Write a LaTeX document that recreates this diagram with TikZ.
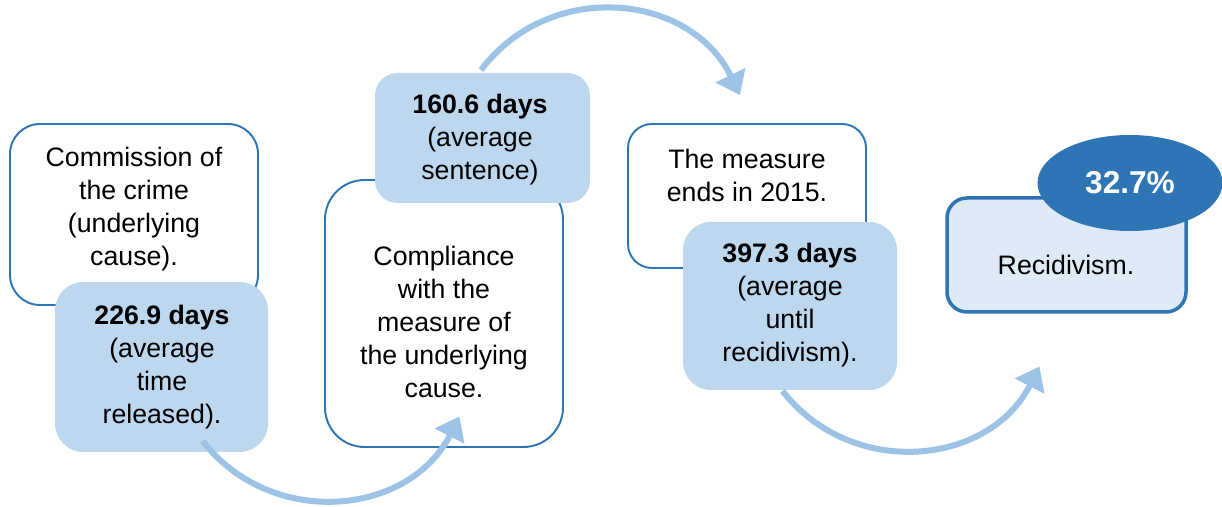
\documentclass[tikz,border=0pt]{standalone}
\usepackage{fontspec}
\setmainfont{Liberation Sans}
\usetikzlibrary{shapes.geometric, arrows.meta}
\definecolor{xblue}{HTML}{2E75B6}
\definecolor{xpale}{HTML}{BDD7EE}
\definecolor{xlight}{HTML}{DEEBF7}
\definecolor{xarrow}{HTML}{9DC3E6}
\tikzset{
	stage/.style={rectangle, rounded corners=#1, draw=xblue, line width=1.1pt, fill=white, inner sep=0pt},
	period/.style={rectangle, rounded corners=#1, fill=xpale, inner sep=0pt},
	outcome/.style={rectangle, rounded corners=#1, draw=xblue, line width=2pt, fill=xlight, inner sep=0pt},
	txt/.style={align=center, font=\fontsize{15.2}{18.8}\selectfont, inner sep=0pt},
	flow/.style={line width=0.12cm, draw=xarrow, -{Triangle[width=0.64cm, length=0.44cm]}},
}

\begin{document}
\begin{tikzpicture}
	\useasboundingbox (0,0) rectangle (24.44,10.14);

% Crime and time released
		\node[stage=0.6cm, minimum width=4.96cm, minimum height=3.62cm] (crime) at (2.68,5.85) {};
		\node[txt] (crimeT) at (2.68,5.96) {Commission of\\the crime\\(underlying\\cause).};
		\node[period=0.57cm, minimum width=4.26cm, minimum height=3.4cm] (released) at (3.23,2.8) {};
		\node[txt] (releasedT) at (3.24,2.8) {\textbf{226.9 days}\\(average\\time\\released).};

% Compliance and sentence
		\node[stage=0.79cm, minimum width=4.76cm, minimum height=5.34cm] (comply) at (8.88,3.87) {};
		\node[txt] (complyT) at (8.88,3.70) {Compliance\\with the\\measure of\\the underlying\\cause.};
		\node[period=0.45cm, minimum width=4.3cm, minimum height=2.6cm] (sentence) at (9.65,7.38) {};
		\node[txt] (sentenceT) at (9.6,7.34) {\textbf{160.6 days}\\(average\\sentence)};

% End of the measure
		\node[stage=0.48cm, minimum width=4.76cm, minimum height=2.88cm] (ends) at (14.94,6.22) {};
		\node[txt] (endsT) at (14.94,6.63) {The measure\\ends in 2015.};
		\node[period=0.56cm, minimum width=4.28cm, minimum height=3.36cm] (until) at (15.8,4.02) {};
		\node[txt] (untilT) at (15.8,4.03) {\textbf{397.3 days}\\(average\\until\\recidivism).};

% Recidivism
		\node[outcome=0.4cm, minimum width=4.78cm, minimum height=2.28cm] (recid) at (21.33,5.04) {};
		\node[txt] (recidT) at (21.32,4.84) {Recidivism.};
		\node[ellipse, fill=xblue, inner sep=0pt, minimum width=3.7cm, minimum height=1.92cm,
			text=white, font=\bfseries\fontsize{18}{22}\selectfont] (rate) at (22.6,6.48) {32.7\%};

% Arcs between the stages
		\coordinate (a1s) at (4.05,1.32);
		\coordinate (a1e) at (9.19,1.81);
		\coordinate (a2s) at (9.62,8.74);
		\coordinate (a2e) at (14.80,8.24);
		\coordinate (a3s) at (15.65,2.32);
		\coordinate (a3e) at (20.79,2.81);

		\draw[flow] (a1s) to[out=-52, in=243, looseness=1.11] (a1e);
		\draw[flow] (a2s) to[out=53, in=116, looseness=1.12] (a2e);
		\draw[flow] (a3s) to[out=-52, in=243, looseness=1.11] (a3e);
	\end{tikzpicture}
\end{document}
